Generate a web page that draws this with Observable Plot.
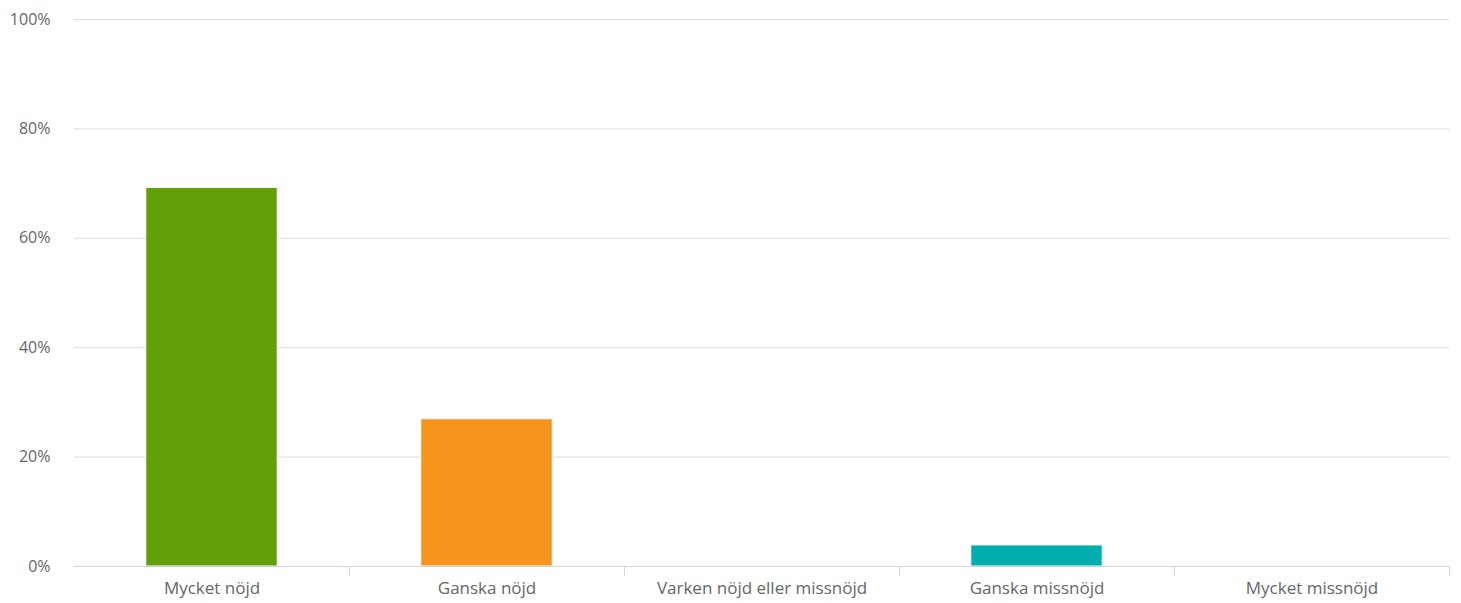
<!DOCTYPE html>
<html>
<head>
<meta charset="utf-8">
<script src="https://cdn.jsdelivr.net/npm/d3@7"></script>
<script src="https://cdn.jsdelivr.net/npm/@observablehq/plot@0.6"></script>
<style>
  html, body { margin: 0; padding: 0; background: #fff; }
  #chart svg { display: block; }
</style>
</head>
<body>
<div id="chart"></div>
<script>
const categories = ["Mycket nöjd", "Ganska nöjd", "Varken nöjd eller missnöjd", "Ganska missnöjd", "Mycket missnöjd"];
const values = [69.23, 26.92, 0, 3.85, 0];
const colors = ["#639e0b", "#f7941e", "#7cb5ec", "#00aeae", "#90ed7d"];
const yTicks = [0, 20, 40, 60, 80, 100];

const data = categories.map((c, i) => ({ c, i, v: values[i], color: colors[i] }));
const barHalf = 0.239;

const chart = Plot.plot({
  width: 1461,
  height: 603,
  marginLeft: 74,
  marginRight: 12,
  marginTop: 19,
  marginBottom: 37,
  style: { fontFamily: "'Open Sans', sans-serif", fontSize: "16px", color: "#666", background: "#fff" },
  x: { domain: [0, categories.length], axis: null },
  y: { domain: [0, 100], axis: null },
  marks: [
    Plot.ruleY(yTicks.slice(1), { stroke: "#dcdcdc", strokeWidth: 1 }),
    Plot.rectY(data.filter(d => d.v > 0), {
      x1: d => d.i + 0.5 - barHalf,
      x2: d => d.i + 0.5 + barHalf,
      y1: 0,
      y2: "v",
      fill: "color",
      stroke: "#ffffff",
      strokeWidth: 1
    }),
    Plot.ruleY([0], { stroke: "#ccd6eb", strokeWidth: 1 }),
    Plot.axisY({ ticks: yTicks, tickSize: 0, tickPadding: 24, tickFormat: d => d + "%", fill: "#666", label: null, fontSize: 16 }),
    Plot.axisX({ ticks: categories.map((c, i) => i + 1), tickSize: 10, tickFormat: () => "", stroke: "#ccd6eb", label: null }),
    Plot.axisX({ ticks: categories.map((c, i) => i + 0.5), tickSize: 0, tickPadding: 15, tickFormat: d => categories[Math.floor(d)], fill: "#666", fontSize: 17, label: null })
  ]
});
document.getElementById("chart").appendChild(chart);
</script>
</body>
</html>
